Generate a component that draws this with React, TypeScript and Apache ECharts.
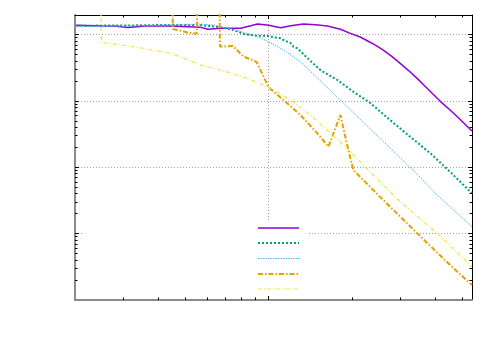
import React, { useEffect, useRef } from "react";
import * as echarts from "echarts";

const X_MIN = 0.2;
const X_MAX = 5.42;
const Y_MIN = 1e-4;
const Y_MAX = 2;

const purpleData = [
  [0.202, 1.396], [0.249, 1.362], [0.282, 1.35], [0.31, 1.29], [0.361, 1.36], [0.433, 1.362],
  [0.511, 1.33], [0.569, 1.302], [0.604, 1.215], [0.672, 1.258], [0.793, 1.258], [0.913, 1.46],
  [1.0, 1.396], [1.105, 1.284], [1.2, 1.38], [1.336, 1.46], [1.476, 1.43], [1.63, 1.362],
  [1.815, 1.22], [1.972, 1.057], [2.14, 0.93], [2.27, 0.818], [2.43, 0.7], [2.593, 0.592],
  [2.79, 0.47], [2.984, 0.373], [3.2, 0.29], [3.435, 0.221], [3.67, 0.168], [3.924, 0.127],
  [4.19, 0.097], [4.518, 0.0736], [4.85, 0.0558], [5.42, 0.0355],
];

const greenData = [
  [0.202, 1.38], [0.294, 1.386], [0.409, 1.411], [0.569, 1.411], [0.672, 1.302], [0.748, 1.186],
  [0.813, 1.032], [0.898, 0.979], [0.992, 0.962], [1.105, 0.889], [1.132, 0.838], [1.2, 0.755],
  [1.23, 0.663], [1.271, 0.628], [1.416, 0.404], [1.538, 0.295], [1.771, 0.209], [2.022, 0.139],
  [2.328, 0.0938], [2.746, 0.0519], [3.242, 0.0291], [3.826, 0.01651], [4.518, 0.00861], [5.42, 0.00407],
];

const blueData = [
  [0.202, 1.33], [0.376, 1.386], [0.569, 1.46], [0.634, 1.411], [0.748, 1.215], [0.913, 0.939],
  [1.0, 0.79], [1.132, 0.592], [1.303, 0.394], [1.5, 0.2236], [1.713, 0.131], [1.972, 0.0743],
  [2.27, 0.0422], [2.593, 0.0247], [2.984, 0.014], [3.435, 0.00796], [4.055, 0.00384],
  [4.786, 0.00205], [5.42, 0.00127],
];

const orangeData = [
  [0.202, 5], [0.449, 5], [0.451, 1.227], [0.483, 1.157], [0.511, 1.079], [0.546, 1.05],
  [0.551, 1.05], [0.553, 5], [0.664, 5], [0.667, 0.668], [0.743, 0.68], [0.813, 0.469],
  [0.862, 0.428], [0.905, 0.39], [1.0, 0.162], [1.132, 0.104], [1.303, 0.0618], [1.5, 0.0327],
  [1.644, 0.0206], [1.815, 0.0618], [1.94, 0.0183], [2.022, 0.00914], [2.593, 0.00322],
  [3.435, 0.00102], [4.518, 0.000337], [5.42, 0.000168],
];

const yellowData = [
  [0.202, 5], [0.248, 5], [0.249, 0.773], [0.327, 0.663], [0.444, 0.528], [0.569, 0.351],
  [0.672, 0.295], [0.84, 0.221], [1.0, 0.162], [1.2, 0.104], [1.416, 0.0618], [1.671, 0.0331],
  [1.972, 0.01726], [2.387, 0.00769], [2.984, 0.00304], [4.055, 0.00102], [5.42, 0.000318],
];

const xMajorTicks = [1];
const xMinorTicks = [0.3, 0.4, 0.5, 0.6, 0.7, 0.8, 0.9, 2, 3, 4, 5];
const yMajorTicks = [1e-3, 1e-2, 1e-1, 1];
const yDecades = [1e-4, 1e-3, 1e-2, 1e-1];
const yMinorMultipliers = [2, 3, 4, 5, 6, 7, 8, 9];
const yMinorTicks = yDecades.flatMap((d) => yMinorMultipliers.map((m) => m * d));
const xGridLines = [1];
const yGridLines = [1e-3, 1e-2, 1e-1, 1];

const COLORS = ["#9400d3", "#009e73", "#56b4e9", "#e69f00", "#f0e442"];

const snap = (v: number) => Math.round(v - 0.5) + 0.5;

export default function App() {
  const ref = useRef<HTMLDivElement>(null);

  useEffect(() => {
    if (!ref.current) return;
    const chart = echarts.init(ref.current, null, { renderer: "svg" });

    const gridItems: number[][] = [
      ...yGridLines.map((v) => [X_MIN, v, 0]),
      ...xGridLines.map((v) => [v, Y_MAX, 1]),
    ];
    const tickItems: number[][] = [
      ...xMajorTicks.map((v) => [v, Y_MIN, 2]),
      ...xMinorTicks.map((v) => [v, Y_MIN, 3]),
      ...yMajorTicks.map((v) => [X_MIN, v, 4]),
      ...yMinorTicks.map((v) => [X_MIN, v, 5]),
    ];

    const gridRender = (_p: any, api: any) => {
      const kind = api.value(2);
      const style = { stroke: "#a0a0a0", lineWidth: 1, lineDash: [1, 2] };
      if (kind === 0) {
        const v = api.value(1);
        const a = api.coord([X_MIN, v]);
        const b = api.coord([X_MAX, v]);
        const y = snap(a[1]);
        return { type: "line", shape: { x1: a[0], y1: y, x2: b[0], y2: y }, style };
      }
      const v = api.value(0);
      const a = api.coord([v, Y_MAX]);
      const b = api.coord([v, Y_MIN]);
      const x = snap(a[0]);
      return { type: "line", shape: { x1: x, y1: a[1], x2: x, y2: b[1] }, style };
    };

    const tickRender = (_p: any, api: any) => {
      const kind = api.value(2);
      const style = { stroke: "#000", lineWidth: 1 };
      if (kind === 2 || kind === 3) {
        const len = kind === 2 ? 4 : 2.5;
        const v = api.value(0);
        const bot = api.coord([v, Y_MIN]);
        const top = api.coord([v, Y_MAX]);
        const x = snap(bot[0]);
        return {
          type: "group",
          children: [
            { type: "line", shape: { x1: x, y1: bot[1], x2: x, y2: bot[1] - len }, style },
            { type: "line", shape: { x1: x, y1: top[1], x2: x, y2: top[1] + len }, style },
          ],
        };
      }
      const len = kind === 4 ? 4 : 2.5;
      const v = api.value(1);
      const l = api.coord([X_MIN, v]);
      const r = api.coord([X_MAX, v]);
      const y = snap(l[1]);
      return {
        type: "group",
        children: [
          { type: "line", shape: { x1: l[0], y1: y, x2: l[0] + len, y2: y }, style },
          { type: "line", shape: { x1: r[0], y1: y, x2: r[0] - len, y2: y }, style },
        ],
      };
    };

    const hidden = {
      axisTick: { show: false },
      axisLabel: { show: false },
      splitLine: { show: false },
      minorTick: { show: false },
      minorSplitLine: { show: false },
    };

    const lineSeries = (data: number[][], color: string, width: number, type: any) => ({
      type: "line",
      data,
      showSymbol: false,
      symbol: "none",
      silent: true,
      z: 2,
      clip: true,
      lineStyle: { color, width, type },
      emphasis: { disabled: true },
    });

    const legendY = [228, 243, 258.5, 274, 289];
    const legendStyles: any[] = [
      { w: 1.5, dash: null },
      { w: 2, dash: [2, 2] },
      { w: 1, dash: [1.5, 1] },
      { w: 2, dash: [5, 2, 1.5, 2] },
      { w: 1.2, dash: [4, 2, 1, 2] },
    ];

    chart.setOption({
      animation: false,
      backgroundColor: "#ffffff",
      grid: { left: 75, right: 28, top: 15, bottom: 50, containLabel: false },
      xAxis: [
        {
          type: "log",
          min: X_MIN,
          max: X_MAX,
          position: "bottom",
          axisLine: { show: true, onZero: false, lineStyle: { color: "#8a8a8a", width: 2 } },
          ...hidden,
        },
        {
          type: "log",
          min: X_MIN,
          max: X_MAX,
          position: "top",
          axisLine: { show: true, onZero: false, lineStyle: { color: "#000", width: 1 } },
          ...hidden,
        },
      ],
      yAxis: [
        {
          type: "log",
          min: Y_MIN,
          max: Y_MAX,
          position: "left",
          axisLine: { show: true, onZero: false, lineStyle: { color: "#8a8a8a", width: 2 } },
          ...hidden,
        },
        {
          type: "log",
          min: Y_MIN,
          max: Y_MAX,
          position: "right",
          axisLine: { show: true, onZero: false, lineStyle: { color: "#000", width: 1 } },
          ...hidden,
        },
      ],
      graphic: [
        {
          type: "rect",
          z: 1,
          silent: true,
          shape: { x: 83, y: 220, width: 225, height: 78.5 },
          style: { fill: "#ffffff" },
        },
        ...legendY.map((y, i) => ({
          type: "line",
          z: 10,
          silent: true,
          shape: { x1: 258, y1: y, x2: 299, y2: y },
          style: {
            stroke: COLORS[i],
            lineWidth: legendStyles[i].w,
            lineDash: legendStyles[i].dash,
          },
        })),
      ],
      series: [
        {
          type: "custom",
          z: 0,
          silent: true,
          xAxisIndex: 0,
          yAxisIndex: 0,
          data: gridItems,
          renderItem: gridRender,
        },
        lineSeries(purpleData, COLORS[0], 1.5, "solid"),
        lineSeries(greenData, COLORS[1], 2, [2, 2]),
        lineSeries(blueData, COLORS[2], 1, [1.5, 1]),
        lineSeries(orangeData, COLORS[3], 2, [5, 2, 1.5, 2]),
        lineSeries(yellowData, COLORS[4], 1.2, [4, 2, 1, 2]),
        {
          type: "custom",
          z: 5,
          silent: true,
          xAxisIndex: 0,
          yAxisIndex: 0,
          data: tickItems,
          renderItem: tickRender,
        },
      ],
    });

    return () => chart.dispose();
  }, []);

  return (
    <div
      ref={ref}
      style={{ position: "fixed", left: 0, top: 0, width: 500, height: 350, background: "#fff" }}
    />
  );
}
